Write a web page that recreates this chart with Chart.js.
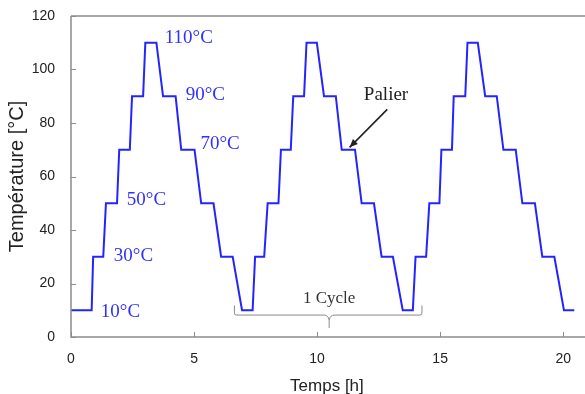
<!DOCTYPE html>
<html>
<head>
<meta charset="utf-8">
<script src="https://cdn.jsdelivr.net/npm/chart.js@4.4.1/dist/chart.umd.min.js"></script>
<style>
  html, body { margin: 0; padding: 0; background: #fff; }
  #wrap { width: 585px; height: 394px; position: relative; }
</style>
</head>
<body>
<div id="wrap"><canvas id="cycleChart"></canvas></div>
<script>
// Temperature cycling profile (hours / deg C)
const timeH = [
  0, 0.84, 0.90, 1.31, 1.42, 1.87, 1.96, 2.39, 2.48, 2.93, 3.02, 3.47,
  3.74, 4.25, 4.48, 5.02, 5.29, 5.79, 6.10, 6.57, 6.95, 7.38,
  7.48, 7.85, 7.99, 8.43, 8.53, 8.93, 9.03, 9.47, 9.57, 9.99,
  10.28, 10.76, 11.00, 11.54, 11.81, 12.31, 12.62, 13.08, 13.48, 13.89,
  14.00, 14.43, 14.56, 14.97, 15.05, 15.48, 15.55, 16.02, 16.11, 16.53,
  16.83, 17.30, 17.57, 18.07, 18.34, 18.85, 19.15, 19.64, 20.03, 20.45
];
const tempC = [
  10, 10, 30, 30, 50, 50, 70, 70, 90, 90, 110, 110,
  90, 90, 70, 70, 50, 50, 30, 30, 10, 10,
  30, 30, 50, 50, 70, 70, 90, 90, 110, 110,
  90, 90, 70, 70, 50, 50, 30, 30, 10, 10,
  30, 30, 50, 50, 70, 70, 90, 90, 110, 110,
  90, 90, 70, 70, 50, 50, 30, 30, 10, 10
];
const xTicks = [0, 5, 10, 15, 20];
const yTicks = [0, 20, 40, 60, 80, 100, 120];

// Step labels (text, x in h, y in deg C)
const stepLabels = ['110°C', '90°C', '70°C', '50°C', '30°C', '10°C'];
const stepLabelX = [3.81, 4.66, 5.26, 2.27, 1.74, 1.21];
const stepLabelY = [111.8, 90.5, 72.3, 51.2, 30.3, 9.5];

const AXIS_COLOR = '#8c8c8c';
const LINE_COLOR = '#2424ff';

const points = timeH.map((t, i) => ({ x: t, y: tempC[i] }));

// axes frame + inward ticks + annotations
const decorPlugin = {
  id: 'decor',
  afterDraw(chart) {
    const { ctx, chartArea: a, scales: { x, y } } = chart;
    ctx.save();

    // frame (left, bottom, top)
    ctx.strokeStyle = AXIS_COLOR;
    ctx.lineWidth = 1.5;
    ctx.beginPath();
    ctx.moveTo(a.left, a.top);
    ctx.lineTo(chart.width, a.top);
    ctx.moveTo(a.left, a.top);
    ctx.lineTo(a.left, a.bottom);
    ctx.lineTo(chart.width, a.bottom);
    ctx.stroke();

    // inward ticks
    ctx.lineWidth = 1;
    ctx.beginPath();
    xTicks.forEach(v => {
      const px = Math.round(x.getPixelForValue(v)) + 0.5;
      ctx.moveTo(px, a.bottom);
      ctx.lineTo(px, a.bottom - 5);
    });
    yTicks.forEach(v => {
      const py = Math.round(y.getPixelForValue(v)) + 0.5;
      ctx.moveTo(a.left, py);
      ctx.lineTo(a.left + 5, py);
    });
    ctx.stroke();

    // step temperature labels
    ctx.font = '19px "Liberation Serif", "Times New Roman", serif';
    ctx.textAlign = 'left';
    ctx.textBaseline = 'middle';
    ctx.fillStyle = '#3030ff';
    stepLabels.forEach((txt, i) => {
      ctx.fillText(txt, x.getPixelForValue(stepLabelX[i]), y.getPixelForValue(stepLabelY[i]));
    });

    // "Palier" + arrow
    ctx.fillStyle = '#222';
    ctx.fillText('Palier', x.getPixelForValue(11.9), y.getPixelForValue(90.5));
    const ax0 = x.getPixelForValue(12.85), ay0 = y.getPixelForValue(85.1);
    const ax1 = x.getPixelForValue(11.32), ay1 = y.getPixelForValue(70.9);
    ctx.strokeStyle = '#222';
    ctx.lineWidth = 1.6;
    ctx.beginPath();
    ctx.moveTo(ax0, ay0);
    ctx.lineTo(ax1, ay1);
    ctx.stroke();
    const ang = Math.atan2(ay1 - ay0, ax1 - ax0);
    ctx.beginPath();
    ctx.moveTo(ax1, ay1);
    ctx.lineTo(ax1 - 9 * Math.cos(ang - 0.4), ay1 - 9 * Math.sin(ang - 0.4));
    ctx.lineTo(ax1 - 9 * Math.cos(ang + 0.4), ay1 - 9 * Math.sin(ang + 0.4));
    ctx.closePath();
    ctx.fill();

    // "1 Cycle" brace
    const bx0 = x.getPixelForValue(6.64), bx1 = x.getPixelForValue(14.26);
    const bxc = x.getPixelForValue(10.49);
    const by = y.getPixelForValue(8.2), byTop = y.getPixelForValue(11.8);
    ctx.strokeStyle = '#8a8a8a';
    ctx.lineWidth = 1;
    ctx.beginPath();
    ctx.moveTo(bx0, byTop);
    ctx.lineTo(bx0, by - 2);
    ctx.quadraticCurveTo(bx0, by, bx0 + 2, by);
    ctx.lineTo(bxc - 5, by);
    ctx.quadraticCurveTo(bxc - 1, by, bxc, by + 5);
    ctx.quadraticCurveTo(bxc + 1, by, bxc + 5, by);
    ctx.lineTo(bx1 - 2, by);
    ctx.quadraticCurveTo(bx1, by, bx1, by - 2);
    ctx.lineTo(bx1, byTop);
    ctx.moveTo(bxc, by + 5);
    ctx.lineTo(bxc, by + 13);
    ctx.stroke();
    ctx.font = '17px "Liberation Serif", "Times New Roman", serif';
    ctx.textAlign = 'center';
    ctx.fillStyle = '#333';
    ctx.fillText('1 Cycle', bxc, y.getPixelForValue(14.2));

    ctx.restore();
  }
};

new Chart(document.getElementById('cycleChart'), {
  type: 'scatter',
  data: {
    datasets: [{
      label: 'Température',
      data: points,
      showLine: true,
      borderColor: LINE_COLOR,
      borderWidth: 2,
      pointRadius: 0,
      tension: 0
    }]
  },
  options: {
    responsive: true,
    maintainAspectRatio: false,
    animation: false,
    layout: { padding: { top: 16, right: 0, left: 0, bottom: 0 } },
    plugins: {
      legend: { display: false },
      tooltip: { enabled: false }
    },
    scales: {
      x: {
        type: 'linear',
        min: 0,
        max: 20.8,
        afterBuildTicks: s => { s.ticks = xTicks.map(v => ({ value: v })); },
        afterFit: s => { s.height = 57; },
        grid: { display: false, drawTicks: false },
        border: { display: false },
        ticks: {
          padding: 14,
          color: '#222',
          font: { family: '"Liberation Sans", Arial, sans-serif', size: 14 }
        },
        title: {
          display: true,
          text: 'Temps [h]',
          color: '#222',
          padding: { top: 0, bottom: -3 },
          font: { family: '"Liberation Sans", Arial, sans-serif', size: 17 }
        }
      },
      y: {
        min: 0,
        max: 120,
        afterBuildTicks: s => { s.ticks = yTicks.map(v => ({ value: v })); },
        afterFit: s => { s.width = 71; s.paddingTop = 0; s.paddingBottom = 0; },
        grid: { display: false, drawTicks: false },
        border: { display: false },
        ticks: {
          padding: 16,
          color: '#222',
          font: { family: '"Liberation Sans", Arial, sans-serif', size: 14 }
        },
        title: {
          display: true,
          text: 'Température [°C]',
          color: '#222',
          padding: { top: 5, bottom: 0 },
          font: { family: '"Liberation Sans", Arial, sans-serif', size: 20 }
        }
      }
    }
  },
  plugins: [decorPlugin]
});
</script>
</body>
</html>
